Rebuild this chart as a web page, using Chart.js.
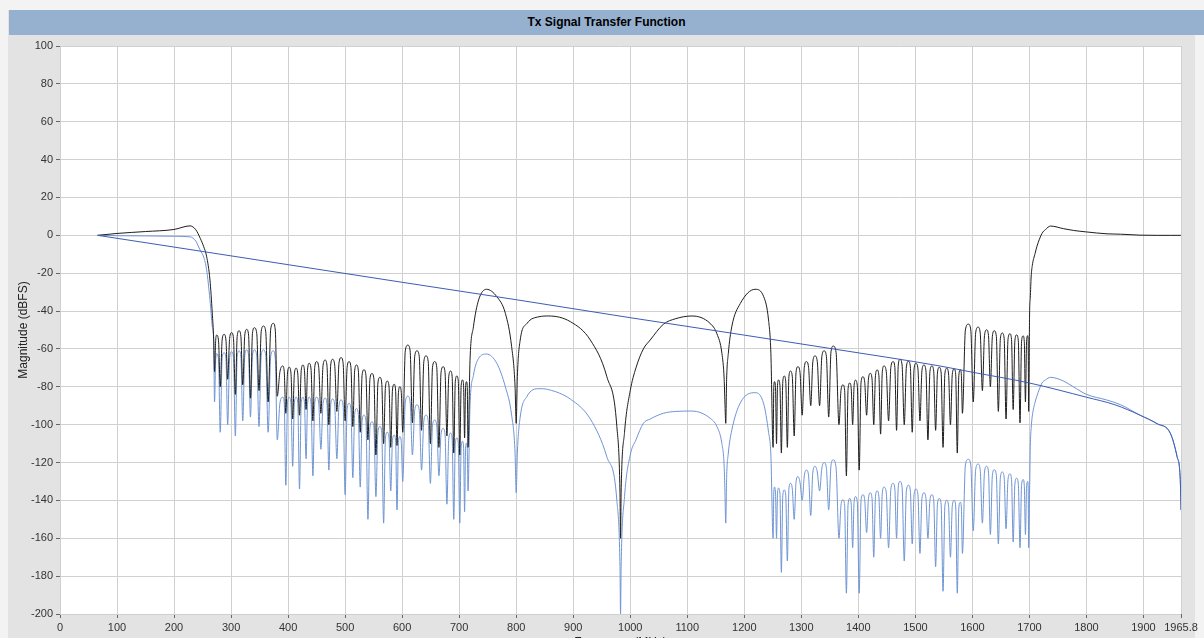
<!DOCTYPE html>
<html>
<head>
<meta charset="utf-8">
<title>Tx Signal Transfer Function</title>
<script src="https://cdn.jsdelivr.net/npm/chart.js@4.4.1/dist/chart.umd.min.js"></script>
<style>
  html, body { margin: 0; padding: 0; overflow: hidden; background: #f3f3f3; }
  body { width: 1204px; height: 638px; position: relative; font-family: "Liberation Sans", Arial, sans-serif; }
  #frame { position: absolute; left: 8px; top: 10px; width: 1187px; height: 628px; background: #e3e3e3; }
  #titlebar { position: absolute; left: 9px; top: 10px; width: 1195px; height: 25px; background: #96b1d0;
    font-weight: bold; font-size: 12px; line-height: 25px; text-align: center; color: #000; }
  #chart { position: absolute; left: 0; top: 0; }
</style>
</head>
<body>
<div id="frame"></div>
<div id="titlebar">Tx Signal Transfer Function</div>
<canvas id="chart" width="1204" height="652"></canvas>
<script>
// Frequency points (MHz) shared by the filter and total responses.
// Stop-band lobes are listed as shoulder, peak, shoulder, null.
const freqMHz = [
  // passband and lower edge
  66, 100, 150, 200, 228, 238, 246, 252, 257, 263, 267, 269.5,
  // stop band 1
  271,
  273, 274.8, 278, 281,   284.3, 287.7, 291, 294,   297.5, 301, 304.2, 307.5,   310.7, 314, 317.2, 320.5,
  324, 327.4, 330.7, 334,   337.5, 340.9, 345, 349,   352.8, 356.7, 360.8, 365,   369.5, 374, 377.5, 381,
  // stop band 2
  385.7, 390.5, 393.2, 396,   399, 402, 405, 408,   411, 414, 417, 420,   423, 426, 428.7, 431.5,
  434.2, 437, 440.2, 443.5,   446.7, 450, 453.7, 457.5,   461.2, 465, 468.2, 471.5,   474.7, 478, 481.7, 485.5,
  489.2, 493, 496.5, 500,   503.5, 507, 510.2, 513.5,   516.7, 520, 523.2, 526.5,   529.7, 533, 536.5, 540,
  543.5, 547, 550.5, 554,   557.5, 561, 564.2, 567.5,   570.7, 574, 577, 580,   583, 586, 588.5, 591,
  593.5, 596, 598.5, 601,
  // stop band 3
  605.5, 610, 614, 618,   622, 626, 630, 634,   638, 642, 645.7, 649.5,   653.2, 657, 660.7, 664.5,
  668.2, 672, 675.2, 678.5,   681.7, 685, 687.7, 690.5,   693.2, 696, 698.5, 701,   703.5, 706, 707.7, 709.5,
  711.2, 713, 714.2, 715.5,
  // main image lobes
  719, 725, 734, 748, 766, 781, 792, 798, 800, 802, 807, 819, 840, 857,
  895, 930, 959, 976.5, 982, 983, 984, 990, 1000, 1010, 1023, 1035, 1058, 1080,
  1108, 1140, 1152, 1160.7, 1164.7, 1166, 1167.5, 1169, 1172, 1178, 1193, 1219, 1234, 1242.5, 1246.6,
  // stop band 4
  1250.5,
  1251.7, 1253, 1254.7, 1256.5,   1258.2, 1260, 1262.5, 1265,   1267.5, 1270, 1272.7, 1275.5,   1278.2, 1281, 1284.2, 1287.5,
  1290.7, 1294, 1297.7, 1301.5,   1305.2, 1309, 1312.7, 1316.5,   1320.2, 1324, 1328, 1332,   1336, 1340, 1344, 1348,
  1352, 1356, 1361, 1366,
  // stop band 5
  1369.5, 1373, 1376, 1379,   1382, 1385, 1387.5, 1390,   1392.5, 1395, 1398.2, 1401.5,   1404.7, 1408, 1411.2, 1414.5,
  1417.7, 1421, 1424, 1427,   1430, 1433, 1436, 1439,   1442, 1445, 1449, 1453,   1457, 1461, 1464, 1467,
  1470, 1473, 1476.7, 1480.5,   1484.2, 1488, 1491.2, 1494.5,   1497.7, 1501, 1504.5, 1508,   1511.5, 1515, 1518.5, 1522,
  1525.5, 1529, 1532.2, 1535.5,   1538.7, 1542, 1545.2, 1548.5,   1551.7, 1555, 1558.2, 1561.5,   1564.7, 1568, 1570.7, 1573.5,
  1576.2, 1579, 1580.7, 1582.5,
  // stop band 6
  1587.7, 1593, 1597.2, 1601.5,   1605.7, 1610, 1613.7, 1617.5,   1621.2, 1625, 1628.2, 1631.5,   1635, 1638.4, 1642, 1645.5,
  1649, 1652.4, 1655.7, 1659,   1662.4, 1665.8, 1668.6, 1671.5,   1674.5, 1677.5, 1680.5, 1683.5,   1686.2, 1689, 1691, 1693,
  1695, 1697, 1697.8, 1698.7,
  // upper edge and image passband
  1700.3, 1701.5, 1703, 1705, 1710, 1713, 1722, 1728, 1737, 1760, 1777, 1800, 1836, 1860, 1894, 1924, 1947, 1959, 1964.5, 1965.8
];

// Filter response (black), dBFS
const filterDb = [
  0, 1.0, 2.0, 3.1, 5.0, 3.0, -1.6, -6, -11, -23.6, -41, -55,
  -72,
  -55.5, -52.7, -55.7, -80,   -55.3, -52.3, -55.3, -76,   -54.4, -51.4, -54.4, -84,   -53.4, -50.4, -53.4, -79,
  -52.7, -49.7, -52.7, -86,   -51.8, -48.8, -51.8, -82,   -50.9, -47.9, -50.9, -88,   -49.5, -46.5, -50, -85,
  -72, -69, -72, -94,   -72.7, -69.7, -72.7, -97,   -73.2, -70.2, -73.2, -95,   -71.5, -68.5, -71.5, -92,
  -70.6, -67.6, -70.6, -98,   -69.7, -66.7, -69.7, -94,   -68.9, -65.9, -68.9, -100,   -68.5, -65.5, -68.5, -93,
  -67.6, -64.6, -67.6, -98,   -69.7, -66.7, -69.7, -101,   -71.5, -68.5, -71.5, -104,   -74, -71, -74, -108,
  -76, -73, -76, -116,   -78, -75, -78, -110,   -80, -77, -80, -112,   -81.7, -78.7, -81.7, -111,
  -83, -80, -83, -104,
  -61, -58, -61, -99,   -64, -61, -64, -103,   -66.7, -63.7, -66.7, -110,   -69.7, -66.7, -69.7, -112,
  -72.4, -69.4, -72.4, -106,   -74.7, -71.7, -74.7, -115,   -77.3, -74.3, -77.3, -116,   -79.4, -76.4, -79.4, -107,
  -80.3, -77.3, -80.3, -112,
  -66, -48.3, -34.2, -28.5, -32.4, -41.2, -58.8, -80, -99.3, -74.7, -55.3, -46.5, -43, -42.6,
  -45.6, -55.3, -74.7, -101, -136, -160, -136, -104, -82, -70, -60, -55.3, -47, -44,
  -42.6, -46.5, -52, -62.3, -76, -88, -99.3, -76, -62.3, -48.3, -36, -28.5, -32.4, -44.7, -62.3,
  -112,
  -80.3, -77.3, -80.3, -110,   -79.4, -76.4, -79.4, -115,   -77.3, -74.3, -77.3, -112,   -74.7, -71.7, -74.7, -106,
  -72.4, -69.4, -72.4, -95,   -69.7, -66.7, -69.7, -90,   -66.7, -63.7, -66.7, -90,   -64, -61, -64, -96,
  -61.5, -58.5, -62, -100,
  -82, -79, -82, -127,   -81, -78, -81, -100,   -79.5, -76.5, -79.5, -124,   -77.7, -74.7, -77.7, -95,
  -75.9, -72.9, -75.9, -100,   -74.1, -71.1, -74.1, -105,   -72, -69, -72, -98,   -69.7, -66.7, -69.7, -103,
  -68.5, -65.5, -68.5, -100,   -69.5, -66.5, -69.5, -104,   -70.6, -67.6, -70.6, -98,   -71.5, -68.5, -71.5, -108,
  -72, -69, -72, -103,   -72.7, -69.7, -72.7, -112,   -73.2, -70.2, -73.2, -100,   -73.5, -70.5, -73.5, -115,
  -74, -71, -74, -94,
  -50, -46.9, -50, -88,   -51.5, -48.5, -51.5, -82,   -52.9, -49.9, -52.9, -80,   -53.4, -50.4, -53.4, -93,
  -54.6, -51.6, -54.6, -97,   -55, -52, -55, -92,   -55.6, -52.6, -55.6, -99,   -56.1, -53.1, -56.1, -88,
  -56, -53, -56, -93,
  -41, -33, -22, -16, -9.5, -6, 1, 3, 4.9, 3.5, 2.6, 1.8, 0.8, 0.6, 0.1, 0, 0, 0, 0, 0
];

// Total response (light blue), dBFS
const totalDb = [
  0, -0.2, -0.3, -0.5, -0.8, -3, -8, -11.5, -18, -34, -48, -56,
  -88,
  -65.5, -62.5, -65.5, -104,   -65, -62, -65, -100,   -64.5, -61.5, -64.5, -106,   -64, -61, -64, -98,
  -63.5, -60.5, -63.5, -96,   -63.5, -60.5, -63.5, -101,   -63.5, -60.5, -63.5, -104,   -64, -61, -65, -108,
  -88.5, -85.5, -88.5, -132,   -88.5, -85.5, -88.5, -122,   -88.5, -85.5, -88.5, -134,   -88.5, -85.5, -88.5, -118,
  -88.5, -85.5, -88.5, -127,   -88.5, -85.5, -88.5, -113,   -89, -86, -89, -124,   -89.5, -86.5, -89.5, -118,
  -90, -87, -90, -137,   -91.7, -88.7, -91.7, -128,   -94.5, -91.5, -94.5, -133,   -98, -95, -98, -150,
  -101.5, -98.5, -101.5, -138,   -104, -101, -104, -152,   -107, -104, -107, -135,   -108.5, -105.5, -108.5, -145,
  -109.3, -106.3, -109.3, -130,
  -88, -85, -88, -116,   -92.5, -89.5, -92.5, -124,   -98, -95, -98, -131,   -100.6, -97.6, -100.6, -127,
  -105, -102, -105, -142,   -107.5, -104.5, -107.5, -150,   -110, -107, -110, -152,   -111.8, -108.8, -111.8, -146,
  -112.7, -109.7, -112.7, -135,
  -90, -74, -65, -62.7, -67.6, -80, -95, -115, -136, -115, -96, -85, -81, -81.5,
  -86.5, -97, -117, -140, -175, -200, -175, -138, -116, -108, -99.3, -97, -94, -93,
  -92.8, -96.6, -101, -110, -122, -135, -152, -128, -115, -103, -88.5, -83.1, -89, -104, -116,
  -160,
  -136, -133, -136, -160,   -136.5, -133.5, -136.5, -178,   -137.5, -134.5, -137.5, -172,   -134, -131, -134, -150,
  -130.4, -127.4, -130.4, -140,   -127, -124, -127, -148,   -125, -122, -125, -135,   -123, -120, -123, -145,
  -121.6, -118.6, -123, -160,
  -142.7, -139.7, -142.7, -189,   -142, -139, -142, -165,   -141, -138, -141, -189,   -140, -137, -140, -157,
  -139, -136, -139, -170,   -138, -135, -138, -160,   -136, -133, -136, -165,   -134, -131, -134, -160,
  -133, -130, -133, -172,   -135, -132, -135, -163,   -137, -134, -137, -168,   -139, -136, -139, -160,
  -140, -137, -140, -175,   -142, -139, -142, -188,   -143, -140, -143, -170,   -143, -140, -143, -189,
  -144, -141, -144, -168,
  -121.3, -118.3, -121.3, -156,   -123.8, -120.8, -123.8, -152,   -125, -122, -125, -158,   -126.8, -123.8, -126.8, -163,
  -128, -125, -128, -155,   -129, -126, -129, -162,   -131.3, -128.3, -131.3, -165,   -132, -129, -132, -158,
  -133, -130, -133, -165,
  -135, -111.6, -102, -95.5, -88, -85, -78, -76.4, -75, -77, -80, -84, -87, -89.5, -95, -99.5, -104.5, -117, -129, -145
];

// Sinc roll-off (dark blue)
const sincFreqMHz = [66, 200, 400, 600, 800, 1000, 1200, 1356, 1543, 1600, 1700, 1800, 1850, 1894, 1924, 1947, 1959, 1964.5, 1965.8];
const sincDb = [0, -6.2, -15.5, -24.8, -34, -43.5, -52.7, -60, -69, -72.3, -78, -85.5, -89.5, -95, -99.5, -104.5, -117, -129, -145];

const xTickValues = [0, 100, 200, 300, 400, 500, 600, 700, 800, 900, 1000, 1100, 1200, 1300, 1400, 1500, 1600, 1700, 1800, 1900, 1965.8];

const toPoints = (xs, ys) => xs.map((x, i) => ({ x: x, y: ys[i] }));

const plotBackground = {
  id: 'plotBackground',
  beforeDraw(chart) {
    const { ctx, chartArea: a } = chart;
    ctx.save();
    ctx.fillStyle = '#ffffff';
    ctx.fillRect(a.left, a.top, a.right - a.left, a.bottom - a.top);
    ctx.restore();
  }
};

const tickFont = { family: '"Liberation Sans", Arial, sans-serif', size: 11 };
const titleFont = { family: '"Liberation Sans", Arial, sans-serif', size: 12 };

new Chart(document.getElementById('chart'), {
  type: 'line',
  data: {
    datasets: [
      { label: 'Sinc', data: toPoints(sincFreqMHz, sincDb), borderColor: '#3c5db6', order: 1 },
      { label: 'Filter', data: toPoints(freqMHz, filterDb), borderColor: '#1e1e1e', order: 2 },
      { label: 'Total', data: toPoints(freqMHz, totalDb), borderColor: '#6f95d4', order: 3 },
    ],
  },
  options: {
    responsive: false,
    animation: false,
    events: [],
    layout: { padding: { top: 46, right: 23, left: 0, bottom: 0 } },
    elements: {
      point: { radius: 0 },
      line: { borderWidth: 1, cubicInterpolationMode: 'monotone', fill: false },
    },
    plugins: {
      legend: { display: false },
      tooltip: { enabled: false },
    },
    scales: {
      x: {
        type: 'linear',
        min: 0,
        max: 1965.8,
        afterBuildTicks: (s) => { s.ticks = xTickValues.map((v) => ({ value: v })); },
        afterFit: (s) => { s.height = 38; },
        ticks: { autoSkip: false, maxRotation: 0, padding: 3, color: '#333', font: tickFont, callback: (v) => String(v) },
        grid: { color: '#d0d0d0', tickColor: '#666', tickLength: 4 },
        border: { display: false },
        title: { display: true, text: 'Frequency (MHz)', color: '#222', font: titleFont, padding: { top: 0, bottom: 2 } },
      },
      y: {
        min: -200,
        max: 100,
        afterFit: (s) => { s.width = 60; },
        ticks: { stepSize: 20, padding: 3, color: '#333', font: tickFont, callback: (v) => String(v) },
        grid: { color: '#d0d0d0', tickColor: '#666', tickLength: 4 },
        border: { display: false },
        title: { display: true, text: 'Magnitude (dBFS)', color: '#222', font: titleFont, padding: { top: 16, bottom: 0 } },
      },
    },
  },
  plugins: [plotBackground],
});
</script>
</body>
</html>
